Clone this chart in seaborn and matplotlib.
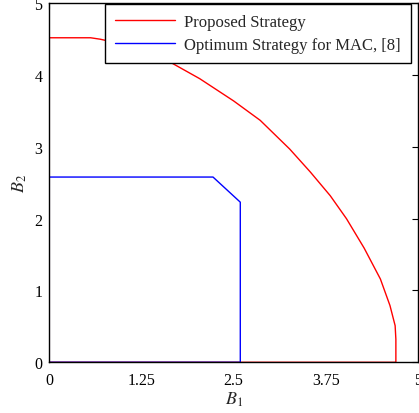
import numpy as np
import seaborn as sns
import matplotlib
matplotlib.use("Agg")
from matplotlib import pyplot as plt

# region boundaries
prop_x = [0, 0, 0.56, 0.69, 1.00, 1.30, 1.64, 2.04, 2.50, 2.86, 3.26, 3.54, 3.81, 4.03,
          4.27, 4.49, 4.62, 4.69, 4.70, 4.70, 0]
prop_y = [0, 4.52, 4.52, 4.50, 4.43, 4.33, 4.18, 3.95, 3.64, 3.37, 2.97, 2.65, 2.32, 2.00,
          1.59, 1.16, 0.79, 0.51, 0.32, 0, 0]

mac_x = [0, 0, 2.22, 2.59, 2.59, 0]
mac_y = [0, 2.58, 2.58, 2.23, 0, 0]

xticks = [0, 1.25, 2.5, 3.75, 5]
xticklabels = ["0", "1.25", "2.5", "3.75", "5"]
yticks = [0, 1, 2, 3, 4, 5]

sns.set_style("white")
plt.rcParams['font.family'] = ['Liberation Serif', 'DejaVu Serif']
plt.rcParams['mathtext.fontset'] = 'stix'

fig = plt.figure(figsize=(4.19, 4.14), dpi=100)
ax = fig.add_axes([0.1177, 0.1225, 0.8799, 0.8671])

sns.lineplot(x=prop_x, y=prop_y, sort=False, estimator=None, color='red',
             lw=1.0, label='Proposed Strategy', ax=ax)
sns.lineplot(x=mac_x, y=mac_y, sort=False, estimator=None, color='blue',
             lw=1.0, label='Optimum Strategy for MAC, [8]', ax=ax)

ax.set_xlim(0, 5); ax.set_ylim(0, 5)
ax.set_xticks(xticks); ax.set_xticklabels(xticklabels)
ax.set_yticks(yticks)
ax.tick_params(direction='in', length=4, width=0.8, top=True, right=True,
               labelsize=11.5, colors='black')
ax.tick_params(axis='x', pad=7)
ax.tick_params(axis='y', pad=5)
for s in ax.spines.values():
    s.set_color('black'); s.set_linewidth(1.0); s.set_visible(True)
ax.set_xlabel('$B_1$', fontsize=13, labelpad=1)
ax.set_ylabel('$B_2$', fontsize=13, labelpad=4)

leg = ax.legend(loc='upper right', bbox_to_anchor=(0.981, 0.998), fontsize=12,
                frameon=True, fancybox=False, edgecolor='black',
                borderaxespad=0, handlelength=3.6, handletextpad=0.55,
                labelspacing=0.42, borderpad=0.6)
leg.get_frame().set_linewidth(1.0)
leg.get_frame().set_alpha(1)

plt.savefig('out.png', dpi=100)
